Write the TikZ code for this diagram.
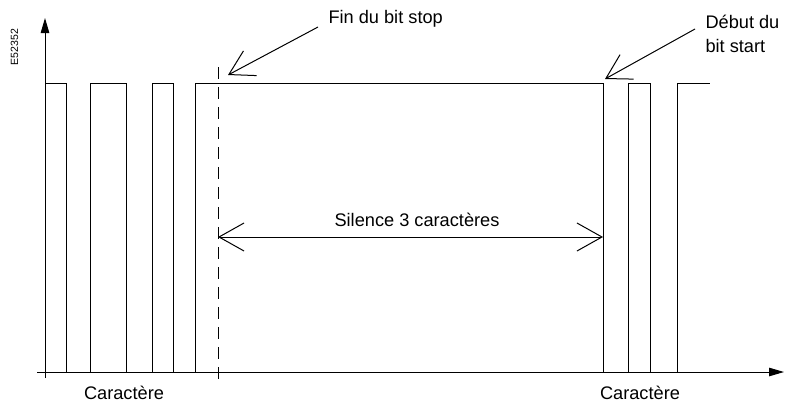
\documentclass[tikz,border=0pt]{standalone}
\usepackage{fontspec}
\setmainfont{Liberation Sans}
\usetikzlibrary{arrows.meta}
\begin{document}
\begin{tikzpicture}[x=1pt,y=-1pt,line width=1pt,
  every node/.style={font=\fontsize{18.2}{22}\selectfont,inner sep=0pt},
  barb/.style={-{Straight Barb[length=24pt,width=28pt]}},
  axisarrow/.style={-{Triangle[length=15pt,width=8.5pt]}}]
\useasboundingbox (0,0) rectangle (791,405);
\node[rotate=90,font=\fontsize{10.5}{12}\selectfont] (code) at (14.5,47) {E52352};
% axes
\coordinate (orig) at (45,372);
\draw[axisarrow] (45,378) -- (45,18);
\draw[axisarrow] (37,372) -- (784,372);
% first character and second character pulses
\foreach \a/\b in {45/66,90/126,152/173,628/650} {
  \draw (\a,372) rectangle (\b,83);
}
\draw (195,372) -- (195,83) -- (603,83) -- (603,372);
\draw (712,372) -- (677,372) -- (677,83) -- (710,83);
% end of stop bit
\draw[dash pattern=on 12pt off 8pt] (218,67) -- (218,385);
\node[anchor=base west] (lblstop) at (328,23) {Fin du bit stop};
\coordinate (stoptail) at (318,27);
\coordinate (stoptip) at (228,75);
\draw[barb] (stoptail) -- (stoptip);
% start bit
\node[anchor=base west] (lblstart) at (705,28) {Début du};
\node[anchor=base west] (lblstartb) at (705,52) {bit start};
\coordinate (starttail) at (695,29);
\coordinate (starttip) at (605,79);
\draw[barb] (starttail) -- (starttip);
% silence
\coordinate (silL) at (218,237);
\coordinate (silR) at (603,237);
\draw[{Straight Barb[length=25pt,width=28pt]}-{Straight Barb[length=25pt,width=28pt]}] (silL) -- (silR);
\node[anchor=base] (lblsil) at (417,226) {Silence 3 caractères};
\node[anchor=base] (lblcarA) at (124,399) {Caractère};
\node[anchor=base] (lblcarB) at (640,399) {Caractère};
\end{tikzpicture}
\end{document}
